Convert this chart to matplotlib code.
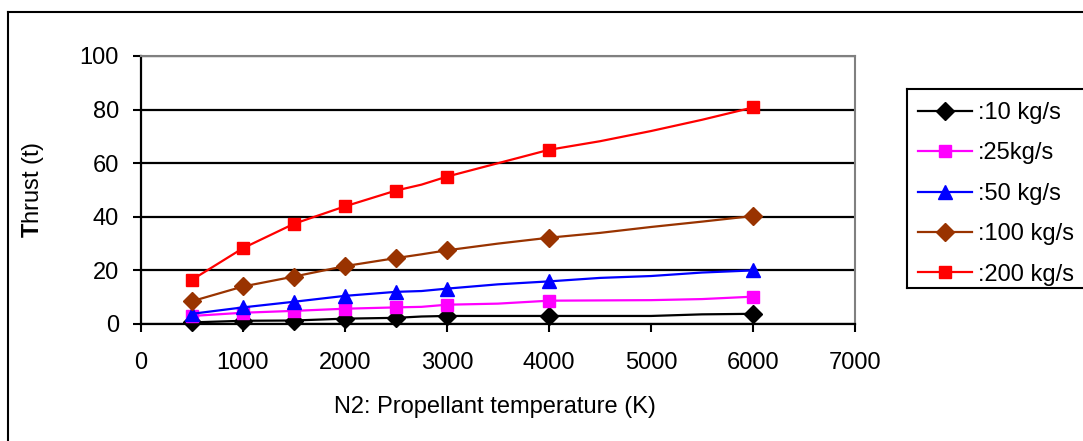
import matplotlib
matplotlib.use("Agg")
import matplotlib.pyplot as plt
from matplotlib.lines import Line2D

# ---- data ----
temperature = [500, 1000, 1500, 2000, 2500, 2750, 3000, 3500, 4000, 4500, 5000, 5500, 6000]
marker_temps = [500, 1000, 1500, 2000, 2500, 3000, 4000, 6000]
thrust_10 = [0.6, 1.2, 1.3, 2.0, 2.3, 2.8, 3.0, 3.0, 3.0, 3.0, 3.0, 3.6, 3.8]
thrust_25 = [3.0, 4.2, 4.9, 5.7, 6.2, 6.4, 7.2, 7.6, 8.7, 8.8, 8.9, 9.3, 10.2]
thrust_50 = [3.8, 6.2, 8.3, 10.5, 12.0, 12.3, 13.2, 14.8, 15.9, 17.2, 17.9, 19.2, 20.0]
thrust_100 = [8.5, 14.0, 17.7, 21.6, 24.6, 26.0, 27.5, 30.0, 32.2, 34.0, 36.2, 38.2, 40.3]
thrust_200 = [16.5, 28.3, 37.4, 43.9, 49.8, 52.0, 55.0, 60.0, 65.0, 68.2, 72.0, 76.2, 80.8]
labels = [":10 kg/s", ":25kg/s", ":50 kg/s", ":100 kg/s", ":200 kg/s"]
x_ticks = [0, 1000, 2000, 3000, 4000, 5000, 6000, 7000]
y_ticks = [0, 20, 40, 60, 80, 100]

plt.rcParams['font.family'] = ['Liberation Sans', 'DejaVu Sans']
plt.rcParams['mathtext.fontset'] = 'custom'
plt.rcParams['mathtext.rm'] = 'Liberation Sans'
plt.rcParams['mathtext.bf'] = 'Liberation Sans:bold'

FS = 17
W, H = 1083, 441
fig = plt.figure(figsize=(W / 100, H / 100), dpi=100)
ax = fig.add_axes([141 / W, 1 - 324 / H, (855 - 141) / W, (324 - 56) / H])

series = [
    (thrust_10, 'black', 'D', 9),
    (thrust_25, '#FF00FF', 's', 8),
    (thrust_50, '#0000FF', '^', 10),
    (thrust_100, '#993300', 'D', 9.5),
    (thrust_200, '#FF0000', 's', 8),
]
mark_idx = [temperature.index(t) for t in marker_temps]
handles = []
for (vals, col, mk, ms), lab in zip(series, labels):
    h, = ax.plot(temperature, vals, color=col, lw=1.6, marker=mk, ms=ms,
                 markevery=mark_idx, mec=col, mfc=col, label=lab, zorder=3,
                 clip_on=False)
    handles.append(h)

ax.set_xlim(0, 7000)
ax.set_ylim(0, 100)
ax.set_xticks(x_ticks)
ax.set_yticks(y_ticks)
ax.tick_params(axis='both', labelsize=FS, length=6, width=1.5, direction='out',
               colors='black')
ax.tick_params(axis='x', pad=14)
ax.tick_params(axis='y', pad=10)
ax.yaxis.grid(True, color='black', lw=1.6, zorder=1)
ax.set_axisbelow(True)
for s in ['top', 'right']:
    ax.spines[s].set_color('#808080')
    ax.spines[s].set_linewidth(1.5)
for s in ['left', 'bottom']:
    ax.spines[s].set_color('black')
    ax.spines[s].set_linewidth(1.6)

ax.set_xlabel('N2: Propellant temperature (K)', fontsize=FS)
ax.xaxis.set_label_coords(0.496, -0.270)
ax.set_ylabel(r'$\mathbf{T}$hrust (t)', fontsize=FS)
ax.yaxis.set_label_coords(-0.133, 0.5)

# legend
leg = ax.legend(handles=handles, loc='upper left',
                bbox_to_anchor=(918 / W, 1 - 102 / H), bbox_transform=fig.transFigure,
                frameon=False, fontsize=FS, handlelength=2.29, handletextpad=0.25,
                labelspacing=0.78, borderpad=0, borderaxespad=0, markerscale=1.0)
lx0, ly0, ly1 = 907 / W, 1 - 89 / H, 1 - 288 / H
for xs, ys in [([lx0, 1.01], [ly0, ly0]), ([lx0, 1.01], [ly1, ly1]), ([lx0, lx0], [ly0, ly1])]:
    fig.add_artist(Line2D(xs, ys, transform=fig.transFigure, color='black', lw=1.5))

# outer chart border (cropped at right and bottom)
bx, by = 7.5 / W, 1 - 12 / H
fig.add_artist(Line2D([bx, 1.01], [by, by], transform=fig.transFigure, color='black', lw=1.5))
fig.add_artist(Line2D([bx, bx], [by, -0.01], transform=fig.transFigure, color='black', lw=1.5))

fig.savefig('out.png', dpi=100)
